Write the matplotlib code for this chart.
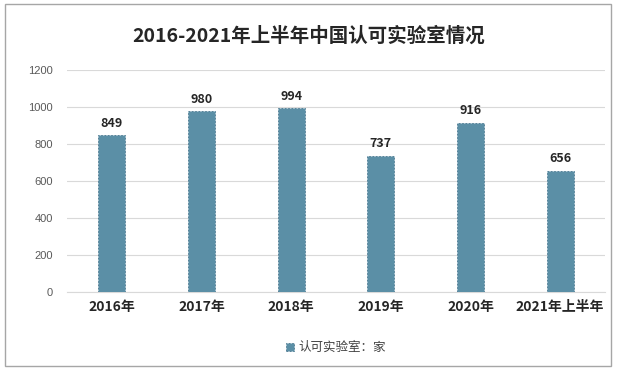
import matplotlib.pyplot as plt
from matplotlib.patches import Rectangle

plt.rcParams['font.family'] = ['Noto Sans CJK SC', 'DejaVu Sans']

categories = ['2016年', '2017年', '2018年', '2019年', '2020年', '2021年上半年']
values = [849, 980, 994, 737, 916, 656]
yticks = [0, 200, 400, 600, 800, 1000, 1200]

BAR = '#5b8fa6'

fig = plt.figure(figsize=(6.17, 3.71), dpi=100)
fig.patches.append(Rectangle((5 / 617, 5 / 371), 606 / 617, 362 / 371,
                             transform=fig.transFigure, fill=False,
                             edgecolor='#a6a6a6', linewidth=1))

ax = fig.add_axes([67 / 617, 79 / 371, 538 / 617, 222 / 371])
x = range(len(categories))
bars = ax.bar(x, values, width=0.3, color=BAR, edgecolor='#4a7890',
              linewidth=0.6, linestyle=(0, (2, 2)), zorder=3)

for xi, v in zip(x, values):
    ax.text(xi, v + 28, str(v), ha='center', va='bottom', fontsize=9,
            fontweight='bold', color='#262626')

ax.set_xlim(-0.5, len(categories) - 0.5)
ax.set_ylim(0, 1200)
ax.set_yticks(yticks)
ax.set_yticklabels([str(t) for t in yticks], fontsize=8, color='#595959',
                   family=['Liberation Sans', 'DejaVu Sans'])
ax.set_xticks(list(x))
ax.set_xticklabels(categories, fontsize=10, fontweight='bold', color='#262626')
ax.tick_params(axis='both', length=0)
ax.tick_params(axis='y', pad=10)
ax.tick_params(axis='x', pad=6)
ax.grid(axis='y', color='#d9d9d9', linewidth=0.8, zorder=0)
for side in ['top', 'right', 'left']:
    ax.spines[side].set_visible(False)
ax.spines['bottom'].set_color('#d9d9d9')

fig.text(0.5, 335 / 371, '2016-2021年上半年中国认可实验室情况', ha='center',
         va='center', fontsize=14, fontweight='bold', color='#262626')

ax.legend([bars], ['认可实验室：家'], loc='center',
          bbox_to_anchor=(0.5, -0.25), frameon=False, fontsize=9,
          handlelength=0.6, handleheight=0.6, handletextpad=0.4,
          labelcolor='#404040')

fig.savefig('out.png', dpi=100)
